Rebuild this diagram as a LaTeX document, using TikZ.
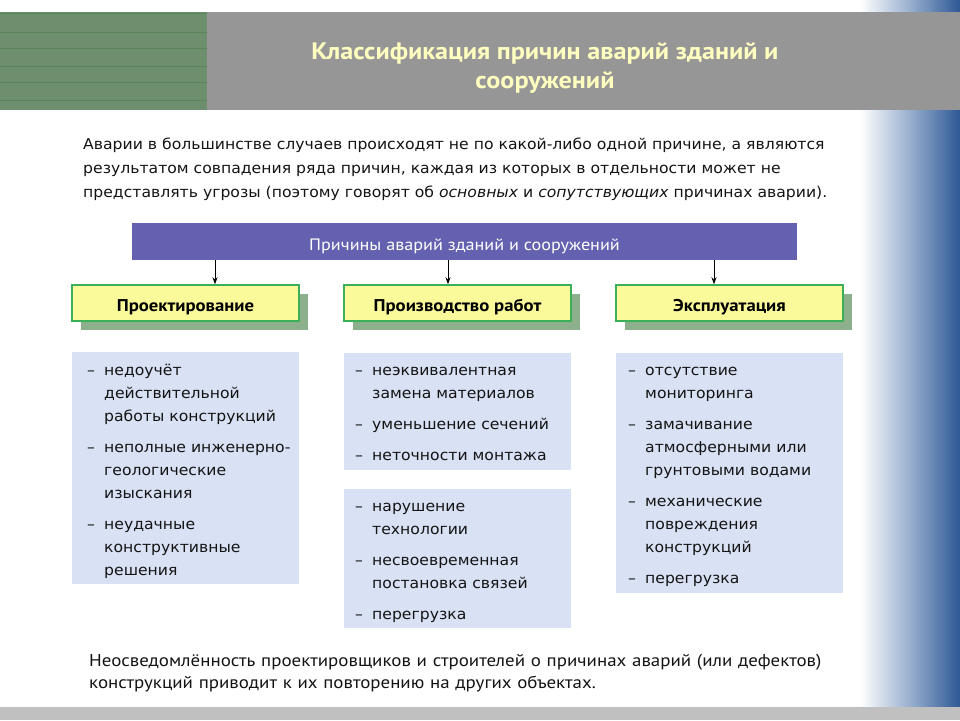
\documentclass[tikz,border=0pt]{standalone}
\usepackage{fontspec}
\setmainfont[FakeStretch=1.05]{DejaVu Sans}
\newfontfamily\hfont[FakeStretch=1.1]{PT Sans}
\usetikzlibrary{arrows.meta,calc,shadows}
\definecolor{grn}{RGB}{110,143,110}
\definecolor{grnline}{RGB}{88,132,88}
\definecolor{hdr}{RGB}{150,150,150}
\definecolor{ttl}{RGB}{255,255,192}
\definecolor{pur}{RGB}{100,98,176}
\definecolor{ylw}{RGB}{250,250,155}
\definecolor{ybord}{RGB}{60,175,90}
\definecolor{shd}{RGB}{140,175,140}
\definecolor{lst}{RGB}{217,225,244}
\definecolor{blu}{RGB}{45,88,148}
\definecolor{blumid}{RGB}{140,165,200}
\definecolor{txt}{RGB}{20,20,20}
\definecolor{strip}{RGB}{192,192,192}
\newcommand\dsh{\makebox[17pt][l]{–}}
\newcommand\ind{\hspace*{17pt}}
\tikzset{
  ybox/.style={draw=ybord, fill=ylw, line width=1.5pt, minimum width=227pt, minimum height=36pt,
    inner sep=0pt, text height=17pt, text depth=0pt,
    font=\hfont\bfseries\fontsize{17}{20}\selectfont, text=black,
    drop shadow={shadow xshift=9pt, shadow yshift=-9pt, opacity=1, fill=shd}},
  lbox/.style={fill=lst, inner sep=0pt, anchor=north west, minimum width=227pt},
  ltxt/.style={anchor=base west, text width=220pt, align=left, inner sep=0pt,
    font=\fontsize{14.9}{23}\selectfont, text=txt},
  arr/.style={-{Stealth[length=7pt,width=5pt]}, line width=0.8pt, black},
}
\begin{document}
\begin{tikzpicture}[x=1pt,y=-1pt]
\useasboundingbox (0,0) rectangle (960,720);
\fill[white] (0,0) rectangle (960,720);
% right gradient
\shade[left color=white, right color=blumid] (860,0) rectangle (916,707);
\shade[left color=blumid, right color=blu] (915.5,0) rectangle (960,707);
% header
\fill[hdr] (207,12) rectangle (960,110);
\fill[grn] (0,12) rectangle (207,110);
\foreach \yy in {13,32,48,66,82,100}{\draw[grnline, line width=1pt] (0,\yy) -- (207,\yy);}
\node[align=center, text=ttl, font=\hfont\bfseries\fontsize{23.8}{29}\selectfont] (title) at (545,68)
  {Классификация причин аварий зданий и\\сооружений};
% paragraph
\node[anchor=base west, text width=820pt, align=left, inner sep=0pt, text=txt,
  font=\fontsize{14.9}{24}\selectfont] (para) at (83,149)
  {Аварии в большинстве случаев происходят не по какой-либо одной причине, а являются\\
   результатом совпадения ряда причин, каждая из которых в отдельности может не\\
   представлять угрозы (поэтому говорят об \textit{основных} и \textit{сопутствующих} причинах аварии).};
% bar
\node[fill=pur, minimum width=665pt, minimum height=37pt, inner sep=0pt, text=white,
  text height=17pt, text depth=0pt,
  font=\hfont\fontsize{16.5}{18}\selectfont] (bar) at (464.5,241.5)
  {Причины аварий зданий и сооружений};
% category boxes
\node[ybox] (p1) at (185.5,303) {Проектирование};
\node[ybox] (p2) at (457.5,303) {Производство работ};
\node[ybox] (p3) at (729.5,303) {Эксплуатация};
\coordinate (a1) at (215,0);
\coordinate (a2) at (448,0);
\coordinate (a3) at (714,0);
\draw[arr] (bar.south -| a1) -- (p1.north -| a1);
\draw[arr] (bar.south -| a2) -- (p2.north -| a2);
\draw[arr] (bar.south -| a3) -- (p3.north -| a3);
% list boxes
\node[lbox, minimum height=232pt] (l1) at (72,352) {};
\node[lbox, minimum height=117pt] (l2) at (344,353) {};
\node[lbox, minimum height=139pt] (l3) at (344,489) {};
\node[lbox, minimum height=240pt] (l4) at (616,353) {};
\node[ltxt] (t1) at ($(l1.north west)+(15,23)$)
  {\dsh недоучёт\\ \ind действительной\\ \ind работы конструкций\\[8pt]
   \dsh неполные инженерно-\\ \ind геологические\\ \ind изыскания\\[8pt]
   \dsh неудачные\\ \ind конструктивные\\ \ind решения};
\node[ltxt] (t2) at ($(l2.north west)+(11,22)$)
  {\dsh неэквивалентная\\ \ind замена материалов\\[8pt]
   \dsh уменьшение сечений\\[8pt]
   \dsh неточности монтажа};
\node[ltxt] (t3) at ($(l3.north west)+(11,22)$)
  {\dsh нарушение\\ \ind технологии\\[8pt]
   \dsh несвоевременная\\ \ind постановка связей\\[8pt]
   \dsh перегрузка};
\node[ltxt] (t4) at ($(l4.north west)+(12,22)$)
  {\dsh отсутствие\\ \ind мониторинга\\[8pt]
   \dsh замачивание\\ \ind атмосферными или\\ \ind грунтовыми водами\\[8pt]
   \dsh механические\\ \ind повреждения\\ \ind конструкций\\[8pt]
   \dsh перегрузка};
% bottom text
\node[anchor=base west, text width=820pt, align=left, inner sep=0pt, text=txt,
  font=\hfont\fontsize{17.2}{22}\selectfont] (bottom) at (89,666)
  {Неосведомлённость проектировщиков и строителей о причинах аварий (или дефектов)\\
   конструкций приводит к их повторению на других объектах.};
% bottom strip
\fill[strip] (0,707) rectangle (960,720);
\end{tikzpicture}
\end{document}
